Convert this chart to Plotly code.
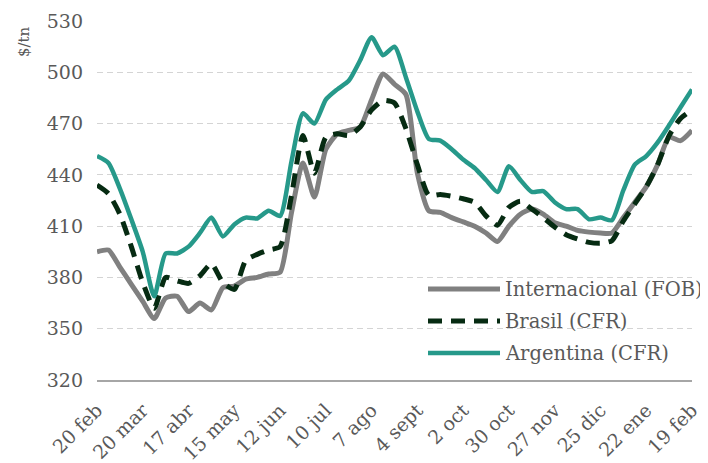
import plotly.graph_objects as go

# ---- data ----
tick_labels = ["20 feb", "20 mar", "17 abr", "15 may", "12 jun", "10 jul", "7 ago",
               "4 sept", "2 oct", "30 oct", "27 nov", "25 dic", "22 ene", "19 feb"]
weeks = list(range(53))
tick_weeks = list(range(0, 53, 4))

internacional = [395, 396, 386, 376, 366, 356, 368, 369, 360, 365,
                 361, 374, 375, 379, 380, 382, 383, 418, 447, 427,
                 455, 464, 466, 468, 484, 499, 493, 487, 441, 419,
                 418, 415, 412.5, 410, 406, 401, 410, 417, 420, 417,
                 412, 410, 407.5, 406.5, 406, 406, 415, 424, 433, 446,
                 462, 460, 466]
brasil = [434, 429, 417, 398, 377, 362, 380, 378, 376.5, 381,
          388, 377, 373, 390, 393.5, 396, 398, 428, 463, 441,
          462, 464, 463, 468, 478, 483.5, 482, 467, 446, 428,
          428.5, 427.5, 426, 424, 416, 410.5, 421, 424.5, 420, 415,
          409.5, 405, 402.5, 400.5, 400, 401.5, 413, 423, 433, 446,
          463, 473, 478]
argentina = [451, 447, 432, 414, 395, 369, 394, 394, 398, 406,
             415, 404, 411, 415, 414.5, 419, 416, 448, 476, 470,
             484, 490, 495, 507, 520.5, 510, 515, 497, 477, 461,
             460, 455, 449, 444, 437, 430, 445, 437, 430, 430.5,
             424, 420, 420, 414, 415, 413.5, 431, 446, 451, 459,
             469, 479.5, 490]

series_names = ["Internacional (FOB)", "Brasil (CFR)", "Argentina (CFR)"]
series_values = [internacional, brasil, argentina]
series_colors = ["#808080", "#062b12", "#26998a"]
series_widths = [5, 5, 4.5]
series_dash = ["solid", "14px,9px", "solid"]

FONT = "DejaVu Serif"
TXT = "#595959"

fig = go.Figure()
for name, vals, col, w, d in zip(series_names, series_values, series_colors, series_widths, series_dash):
    fig.add_trace(go.Scatter(
        x=weeks, y=vals, mode="lines", name=name,
        line=dict(color=col, width=w, dash=d, shape="spline", smoothing=0.6),
        showlegend=False, hoverinfo="skip"))

# The page body has an 8px default margin, so the figure div sits at (8, 8).
OFF = 8
PAGE_W, PAGE_H = 708, 463
W, H = PAGE_W - OFF, PAGE_H - OFF
# plot area in page pixels: x 97..692, y 21..380
ml, mr, mt, mb = 97 - OFF, PAGE_W - 692, 21 - OFF, PAGE_H - 380
pw, ph = W - ml - mr, H - mt - mb

def px(xp):
    return (xp - 97) / pw

def py(yp):
    return (380 - yp) / ph

legend_y = [289, 321, 353]
for name, col, w, d, ly in zip(series_names, series_colors, series_widths, series_dash, legend_y):
    fig.add_shape(type="line", xref="paper", yref="paper",
                  x0=px(428), x1=px(500), y0=py(ly), y1=py(ly),
                  line=dict(color=col, width=w, dash=d))
    fig.add_annotation(xref="paper", yref="paper", x=px(503), y=py(ly),
                       text=name, showarrow=False, xanchor="left", yanchor="middle",
                       font=dict(family=FONT, size=19.5, color=TXT))

fig.add_annotation(xref="paper", yref="paper", x=px(24), y=py(42),
                   text="$/tn", textangle=-90, showarrow=False,
                   xanchor="center", yanchor="middle",
                   font=dict(family=FONT, size=15, color=TXT))

fig.update_layout(
    width=W, height=H,
    margin=dict(l=ml, r=mr, t=mt, b=mb, pad=0, autoexpand=False),
    paper_bgcolor="white", plot_bgcolor="white",
    font=dict(family=FONT, color=TXT),
    xaxis=dict(range=[0, 52], tickmode="array", tickvals=tick_weeks, ticktext=tick_labels,
               tickangle=-45, showgrid=False, zeroline=False, showline=True, automargin=False,
               linecolor="#a6a6a6", linewidth=1.5, ticks="", ticklabelstandoff=10,
               tickfont=dict(family=FONT, size=19, color=TXT)),
    yaxis=dict(range=[320, 530], tickvals=[320, 350, 380, 410, 440, 470, 500, 530],
               showgrid=True, gridcolor="#d4d4d4", gridwidth=1, griddash="6px,4px",
               zeroline=False, showline=False, ticks="", ticklabelstandoff=13, automargin=False,
               tickfont=dict(family=FONT, size=19, color=TXT)),
)

fig.write_html("out.html")
